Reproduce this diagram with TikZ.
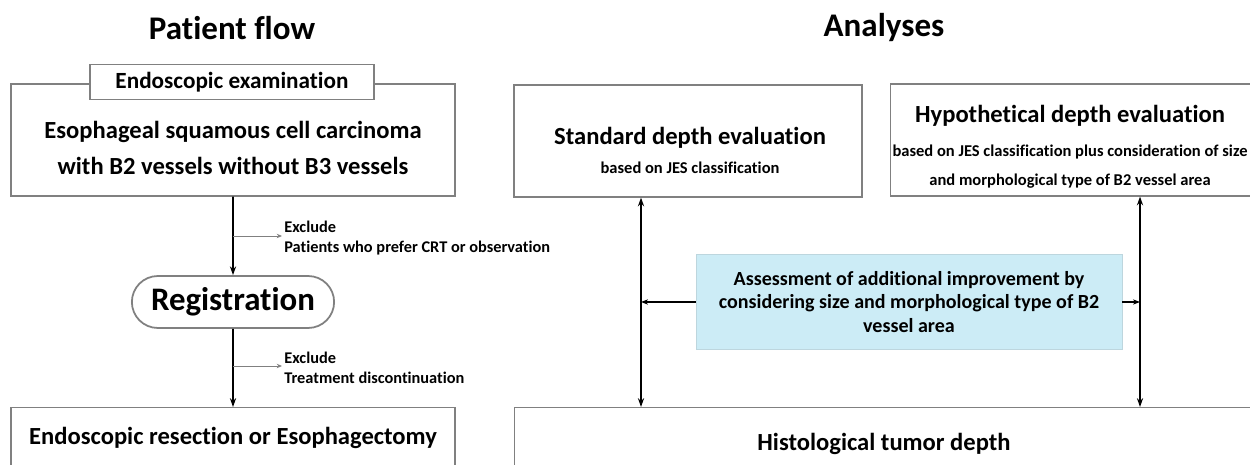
\documentclass[tikz,border=0pt]{standalone}
\usepackage{fontspec}
\setmainfont{Carlito}[RawFeature={-liga;-clig;-calt;-dlig}]
\usetikzlibrary{arrows.meta,positioning,shapes.misc,calc}
\definecolor{boxgray}{RGB}{128,128,128}
\definecolor{assessblue}{RGB}{204,236,246}

\begin{document}
\begin{tikzpicture}[
      x=0.02cm, y=-0.02cm,
      box/.style={draw=boxgray,line width=0.7pt,fill=white,inner sep=0pt},
      headtext/.style={font=\fontsize{18.8}{22}\selectfont\bfseries},
      maintext/.style={align=center,font=\fontsize{14}{21}\selectfont\bfseries},
      subtext/.style={align=center,font=\fontsize{9.4}{16.4}\selectfont\bfseries},
      notetext/.style={align=left,inner sep=0pt,font=\fontsize{9.3}{11.3}\selectfont\bfseries},
      arrow/.style={-{Stealth[length=5pt,width=3.5pt]},line width=0.9pt},
      dblarrow/.style={{Stealth[length=5pt,width=3.5pt]}-{Stealth[length=5pt,width=3.5pt]},line width=0.9pt},
      notearrow/.style={-{Stealth[length=3pt,width=2.5pt]},draw=boxgray,line width=0.5pt},
    ]
    \clip (0,0) rectangle (1250,465);

    % Titles
    \node[headtext] (tflow) at (232,28) {Patient flow};
    \node[headtext] (tana)  at (884,28) {Analyses};

    % Patient flow
    \node[box,minimum width=8.88cm,minimum height=2.24cm] (esc) at (233,140) {};
    \node[maintext] (esctext) at (233,148)
      {Esophageal squamous cell carcinoma\\with B2 vessels without B3 vessels};
    \node[box,minimum width=5.68cm,minimum height=0.7cm,
          font=\fontsize{13.2}{15}\selectfont\bfseries] (exam) at (232,82)
      {Endoscopic examination};
    \node[draw=boxgray,line width=1pt,rounded rectangle,fill=white,
          minimum width=4.28cm,minimum height=1.04cm,
          font=\fontsize{18.7}{21}\selectfont\bfseries] (reg) at (233,302)
      {Registration};
    \node[box,minimum width=8.88cm,minimum height=2.24cm,anchor=north] (resect) at (233,407) {};
    \node[maintext] (resecttext) at (233,438) {Endoscopic resection or Esophagectomy};

    \draw[arrow] (esc) -- (reg);
    \draw[arrow] (reg) -- (resect);

    % Exclusions
    \coordinate (ex1) at (282,236);
    \coordinate (ex2) at (282,366);
    \draw[notearrow] (esc.south |- ex1) -- (ex1);
    \draw[notearrow] (reg.south |- ex2) -- (ex2);
    \node[notetext,anchor=west] (ex1text) at (284,238)
      {Exclude\\Patients who prefer CRT or observation};
    \node[notetext,anchor=west] (ex2text) at (284,368)
      {Exclude\\Treatment discontinuation};

    % Analyses
    \node[box,minimum width=6.96cm,minimum height=2.24cm] (std) at (688,141) {};
    \node[maintext] (stdtext) at (690,138) {Standard depth evaluation};
    \node[subtext] (stdsub) at (690,168) {based on JES classification};

    \node[box,minimum width=7.6cm,minimum height=2.24cm,anchor=west] (hyp) at (890,140) {};
    \node[maintext] (hyptext) at (1070,116) {Hypothetical depth evaluation};
    \node[subtext] (hypsub) at (1070,167)
      {based on JES classification plus consideration of size\\and morphological type of B2 vessel area};

    \node[box,minimum width=16cm,minimum height=2.24cm,anchor=north west] (hist) at (514,407) {};
    \node[maintext] (histtext) at (884,444) {Histological tumor depth};

    \coordinate (ldbl) at (641,0);
    \coordinate (rdbl) at (1140,0);
    \draw[dblarrow] (ldbl |- std.south) -- (ldbl |- hist.north);
    \draw[dblarrow] (rdbl |- hyp.south) -- (rdbl |- hist.north);

    \node[fill=assessblue,draw=assessblue!80!gray,line width=0.4pt,
          minimum width=8.52cm,minimum height=1.9cm,align=center,
          font=\fontsize{11.4}{13.6}\selectfont\bfseries] (assess) at (909,302)
      {Assessment of additional improvement by\\considering size and morphological type of B2\\vessel area};
    \draw[arrow,line width=0.7pt,-{Stealth[length=4pt,width=3pt]}] (assess.west) -- (assess.west -| ldbl);
    \draw[arrow,line width=0.7pt,-{Stealth[length=4pt,width=3pt]}] (assess.east) -- (assess.east -| rdbl);
  \end{tikzpicture}
\end{document}
